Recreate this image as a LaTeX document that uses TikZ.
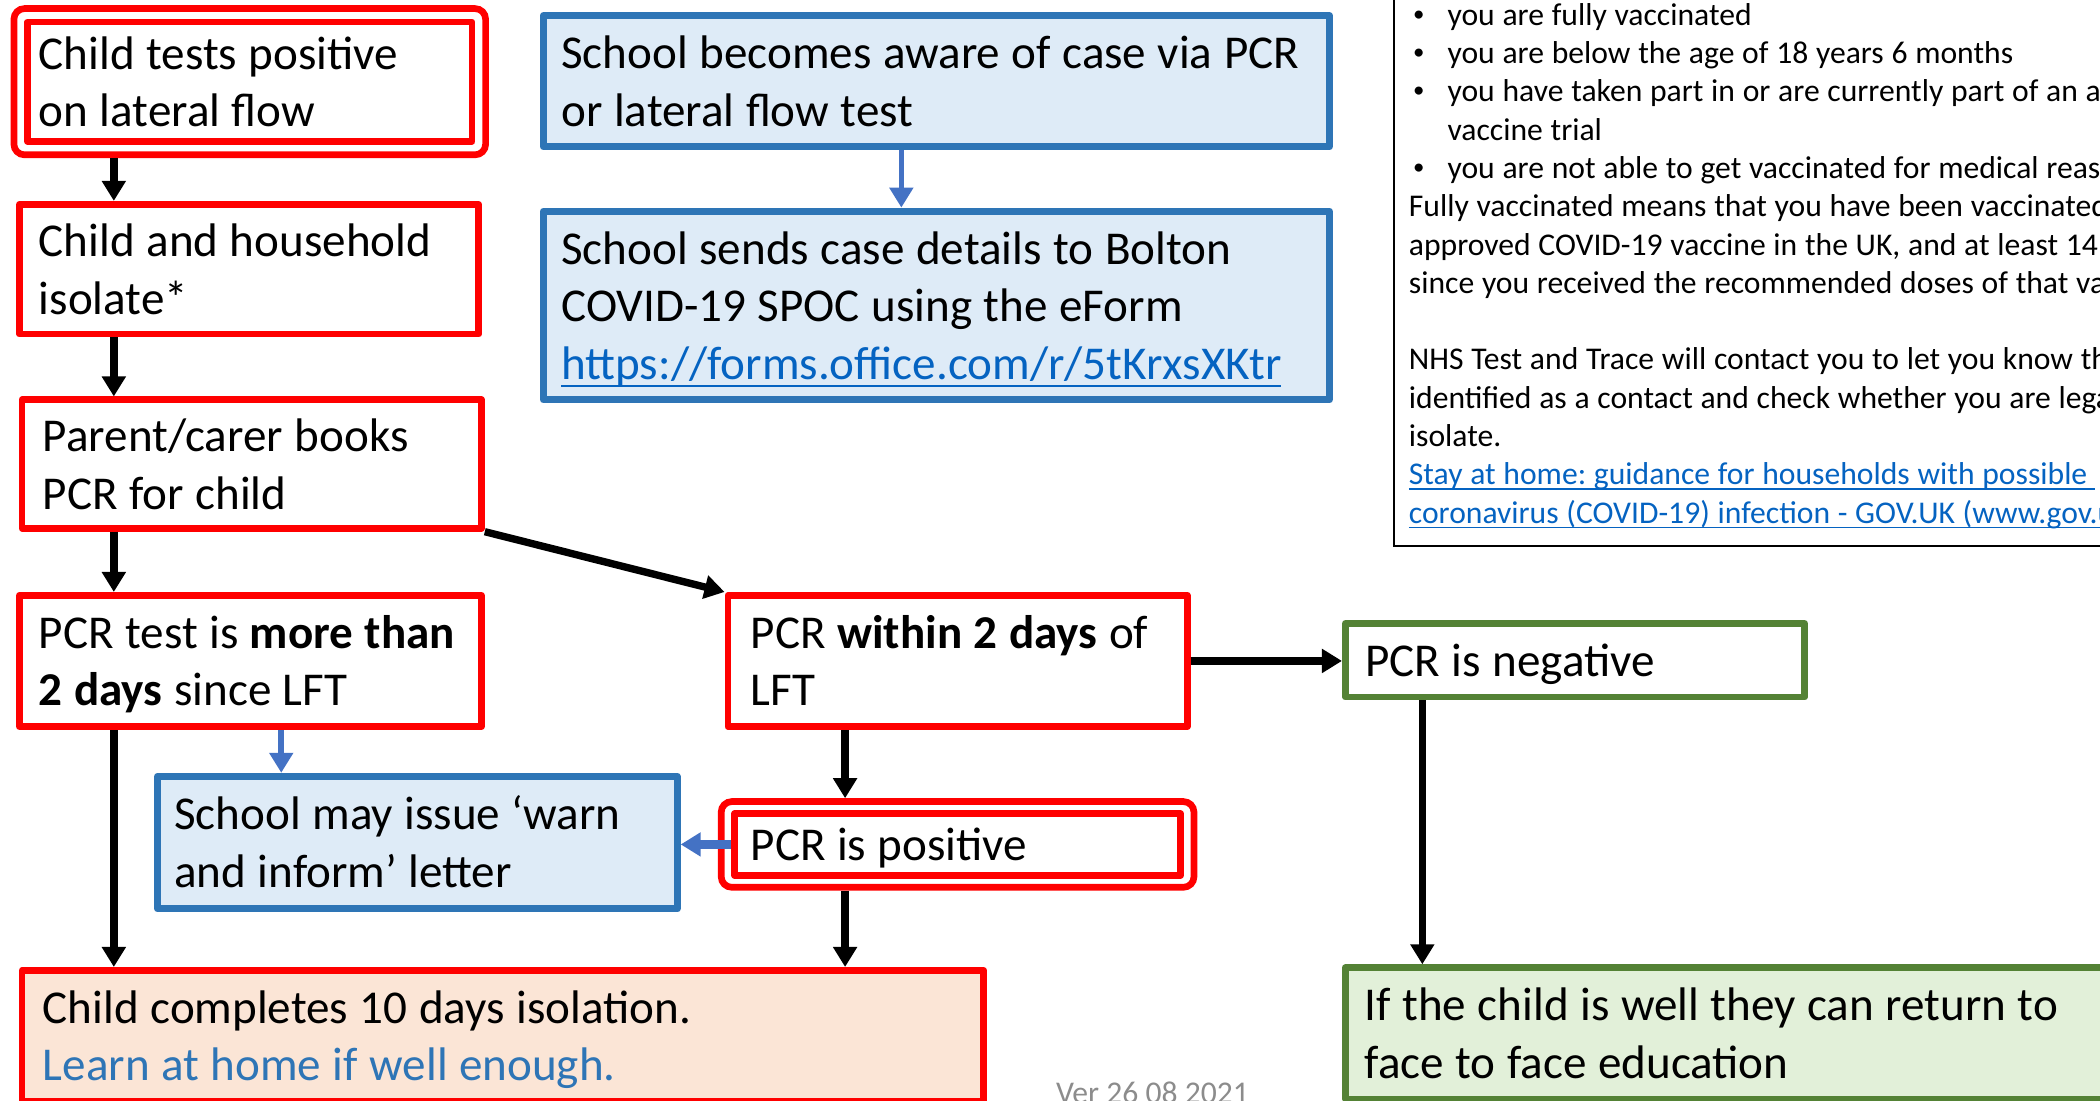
\documentclass[tikz,border=0pt]{standalone}
\usepackage{fontspec}
\setmainfont{Carlito}
\usetikzlibrary{arrows.meta,fit}
\definecolor{redbd}{HTML}{FF0000}
\definecolor{bluebd}{HTML}{2E75B6}
\definecolor{bluefill}{HTML}{DEEBF7}
\definecolor{arrblue}{HTML}{4472C4}
\definecolor{greenbd}{HTML}{548235}
\definecolor{greenfill}{HTML}{E2F0D9}
\definecolor{peach}{HTML}{FBE5D6}
\definecolor{linkblue}{HTML}{0563C1}
\definecolor{vergray}{HTML}{8C8C8C}
\newcommand{\pxu}{0.13393mm}
\newcommand{\natspace}{\spaceskip=1.08\fontdimen2\font\xspaceskip=1.08\fontdimen2\font\frenchspacing}
\newcommand{\ulnk}[1]{\leavevmode{\color{linkblue}\setbox0\hbox{#1}\rlap{\rule[-0.16em]{\wd0}{0.05em}}\box0}}
\newcommand{\bul}{\makebox[11pt][l]{\hspace{1.2pt}\raisebox{0.12em}{\fontsize{6.5}{7}\selectfont •}}}

\begin{document}
\begin{tikzpicture}[x=\pxu, y=-\pxu,
   bigtxt/.style={font=\fontsize{13.4}{16.4}\selectfont, align=left,
      execute at begin node={\natspace\rule{0pt}{13pt}}, execute at end node={\rule[-3.8pt]{0pt}{3.8pt}}},
   smltxt/.style={font=\fontsize{9}{10.9}\selectfont, align=left,
      execute at begin node=\natspace},
   sz/.style n args={3}{minimum width=#1*\pxu, minimum height=#2*\pxu,
      inner xsep=#3*\pxu, inner ysep=0pt, text width={(#1-2*#3)*\pxu}},
   box/.style={draw, line width=1.9pt, line join=round, anchor=north west, bigtxt},
   redline/.style={draw=redbd, line width=1.9pt},
   redbox/.style={box, draw=redbd, fill=white},
   bluebox/.style={box, draw=bluebd, line width=2pt, fill=bluefill},
   greenbox/.style={box, draw=greenbd, fill=white},
   arr/.style={-{Triangle[length=2mm,width=2.3mm]}, line width=2.1pt},
   barr/.style={-{Triangle[length=2mm,width=2.3mm]}, line width=1.6pt, draw=arrblue}]
   \useasboundingbox (0,0) rectangle (1568,822);
   \clip (0,0) rectangle (1568,822);

   % left column
   \node[redbox, sz={332}{89}{8.5}] (pos) at (18,14) {Child tests positive\\on lateral flow};
   \node[redline, fit=(pos), inner sep=7.6*\pxu, rounded corners=3pt] (posout) {};
   \node[redbox, sz={343}{97}{14.5}] (isol) at (12,150) {Child and household\\isolate*};
   \node[redbox, sz={343}{96}{15.5}] (book) at (14,296) {Parent/carer books\\PCR for child};
   \node[redbox, sz={345}{98}{14.5}] (late) at (12,442) {PCR test is \textbf{more than}\\\textbf{2 days} since LFT};
   \node[bluebox, sz={388}{99}{12.5}] (warn) at (115,577) {School may issue ‘warn\\and inform’ letter};
   \node[redbox, fill=peach, sz={718}{98}{15.5}] (complete) at (14,722)
      {Child completes 10 days isolation.\\\textcolor{bluebd}{Learn at home if well enough.}};

   % school boxes
   \node[bluebox, sz={587}{98}{13.5}] (aware) at (403,9) {School becomes aware of case via PCR\\or lateral flow test};
   \node[bluebox, sz={587}{141}{13.5}] (spoc) at (403,155)
      {School sends case details to Bolton\\COVID-19 SPOC using the eForm\\\ulnk{https://forms.office.com/r/5tKrxsXKtr}};

   % PCR branches
   \node[redbox, sz={343}{98}{17}] (early) at (541,442) {PCR \textbf{within 2 days} of\\LFT};
   \node[redbox, sz={333}{46}{12}] (posi) at (546,605) {PCR is positive};
   \node[redline, fit=(posi), inner xsep=7.5*\pxu, inner ysep=6.5*\pxu, rounded corners=3pt] (posiout) {};
   \node[greenbox, sz={343}{55}{15}] (neg) at (1002,463) {PCR is negative};
   \node[greenbox, fill=greenfill, sz={695}{98}{14.5}] (ret) at (1002,720)
      {If the child is well they can return to\\face to face education};

   % info text
   \node[draw, line width=0.6pt, anchor=south west, smltxt, text width=700*\pxu,
      inner xsep=11.2*\pxu, inner ysep=13*\pxu] (info) at (1040,408.5)
      {\bul you are fully vaccinated\\
       \bul you are below the age of 18 years 6 months\\
       \bul you have taken part in or are currently part of an approved\\
       \makebox[11pt]{}vaccine trial\\
       \bul you are not able to get vaccinated for medical reasons\\
       Fully vaccinated means that you have been vaccinated\\
       approved COVID-19 vaccine in the UK, and at least 14\\
       since you received the recommended doses of that vaccine\\[10.9pt]
       NHS Test and Trace will contact you to let you know that\\
       identified as a contact and check whether you are legally\\
       isolate.\\
       \ulnk{Stay at home: guidance for households with possible\ }\\
       \ulnk{coronavirus (COVID-19) infection - GOV.UK (www.gov.uk)}};

   \node[anchor=base west, inner sep=0pt, font=\fontsize{9}{10}\selectfont, text=vergray] (ver)
      at (788,824) {Ver 26 08 2021};

   % connectors
   \draw[arr] (85,0 |- posout.south) -- (85,0 |- isol.north);
   \draw[arr] (85,0 |- isol.south) -- (85,0 |- book.north);
   \draw[arr] (85,0 |- book.south) -- (85,0 |- late.north);
   \draw[arr] (book.south east) -- (early.north west);
   \draw[arr] (85,0 |- late.south) -- (85,0 |- complete.north);
   \draw[arr] (early.east) -- (early.east -| neg.west);
   \draw[arr] (631,0 |- early.south) -- (631,0 |- posiout.north);
   \draw[arr] (631,0 |- posiout.south) -- (631,0 |- complete.north);
   \draw[arr] (1062,0 |- neg.south) -- (1062,0 |- ret.north);
   \draw[barr] (210,0 |- late.south) -- (210,0 |- warn.north);
   \draw[barr] (673,0 |- aware.south) -- (673,0 |- spoc.north);
   \draw[barr, line width=2.8pt] (posi.west) -- (posi.west -| warn.east);
\end{tikzpicture}
\end{document}
